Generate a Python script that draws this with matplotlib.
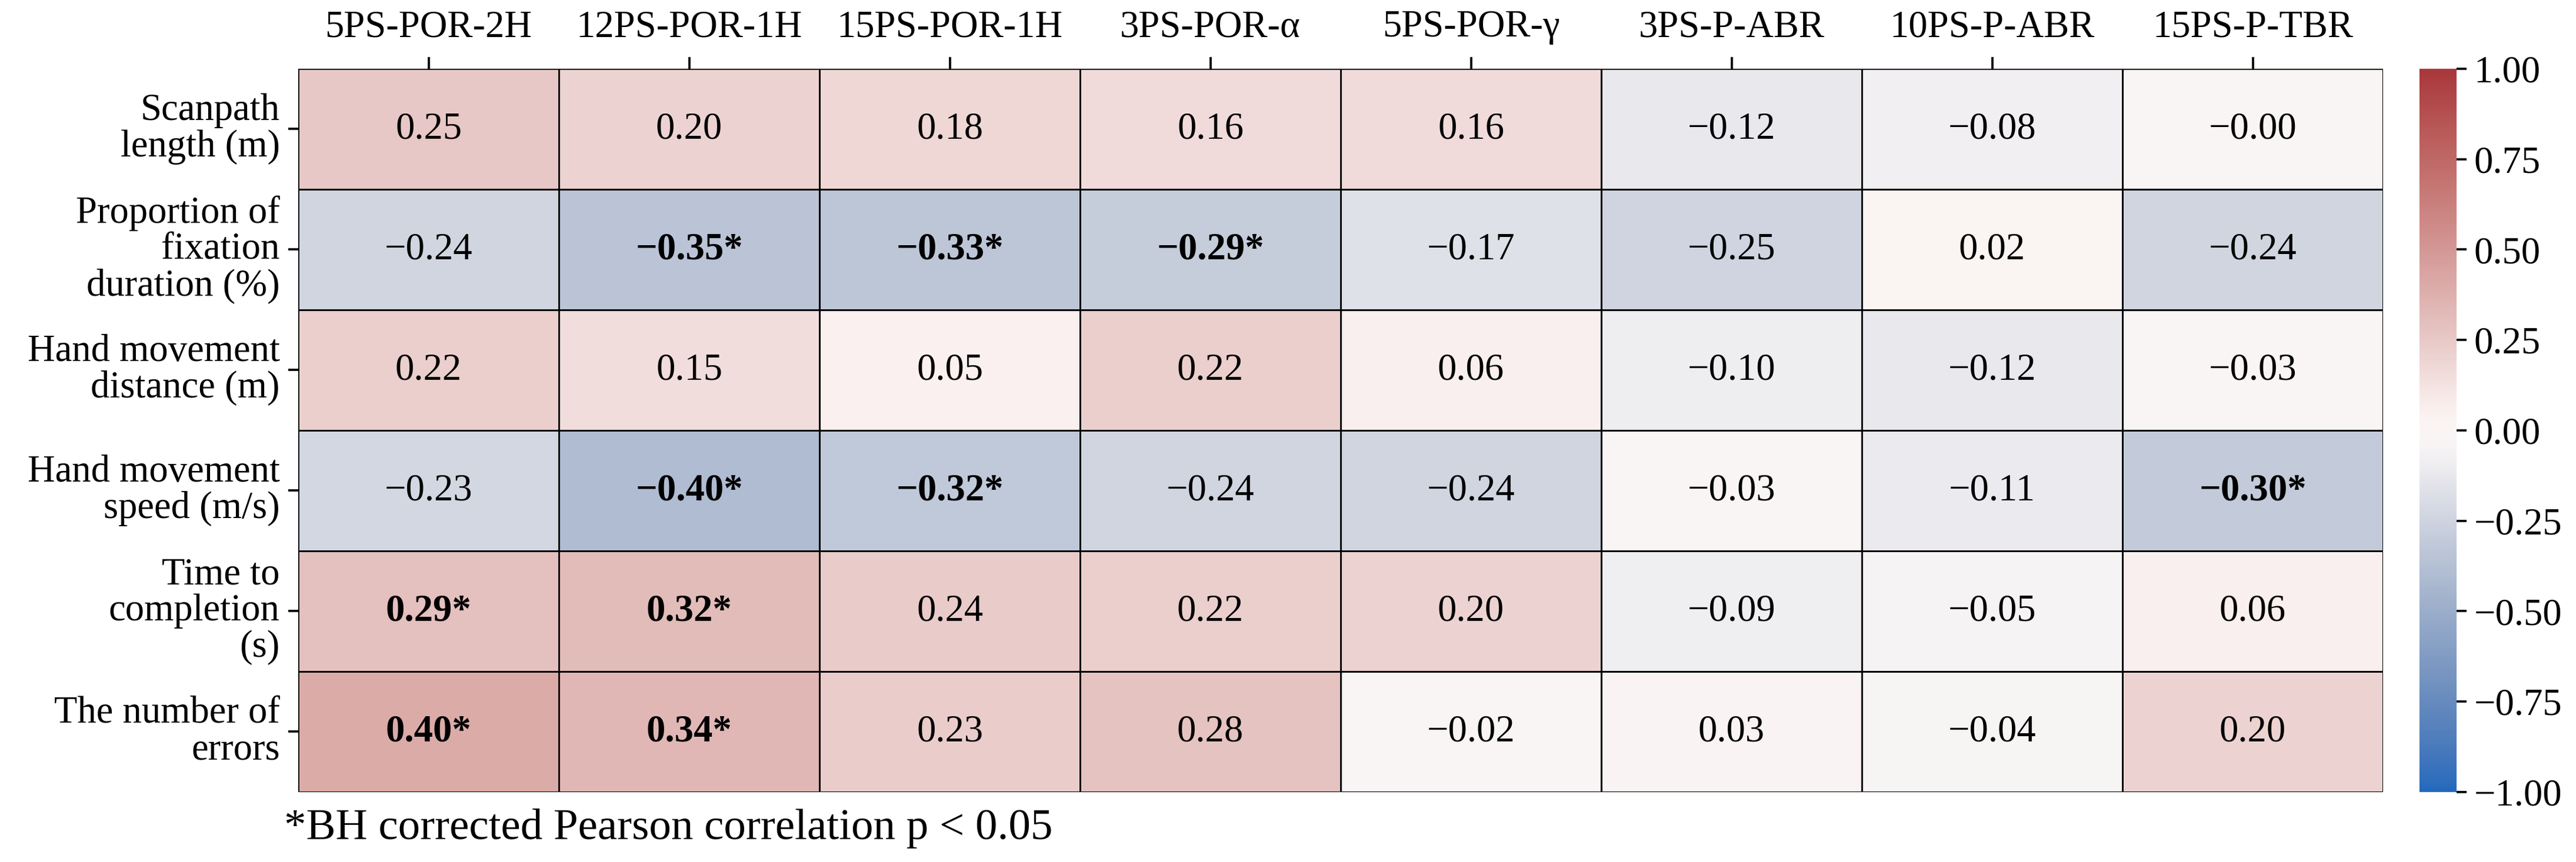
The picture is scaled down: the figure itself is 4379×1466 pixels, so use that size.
import numpy as np
import matplotlib
matplotlib.use("Agg")
import matplotlib.pyplot as plt
import seaborn as sns

# data
cols = ["5PS-POR-2H", "12PS-POR-1H", "15PS-POR-1H", "3PS-POR-\u03b1",
        "5PS-POR-\u03b3", "3PS-P-ABR", "10PS-P-ABR", "15PS-P-TBR"]
rows = ["Scanpath\nlength (m)", "Proportion of\nfixation\nduration (%)",
        "Hand movement\ndistance (m)", "Hand movement\nspeed (m/s)",
        "Time to\ncompletion\n(s)", "The number of\nerrors"]

scanpath = [0.25, 0.20, 0.18, 0.16, 0.16, -0.12, -0.08, -0.001]
fixation = [-0.24, -0.35, -0.33, -0.29, -0.17, -0.25, 0.02, -0.24]
hand_dist = [0.22, 0.15, 0.05, 0.22, 0.06, -0.10, -0.12, -0.03]
hand_speed = [-0.23, -0.40, -0.32, -0.24, -0.24, -0.03, -0.11, -0.30]
completion = [0.29, 0.32, 0.24, 0.22, 0.20, -0.09, -0.05, 0.06]
errors = [0.40, 0.34, 0.23, 0.28, -0.02, 0.03, -0.04, 0.20]

signif = [
    [0, 0, 0, 0, 0, 0, 0, 0],
    [0, 1, 1, 1, 0, 0, 0, 0],
    [0, 0, 0, 0, 0, 0, 0, 0],
    [0, 1, 1, 0, 0, 0, 0, 1],
    [1, 1, 0, 0, 0, 0, 0, 0],
    [1, 1, 0, 0, 0, 0, 0, 0],
]
cbar_ticks = [1.00, 0.75, 0.50, 0.25, 0.00, -0.25, -0.50, -0.75, -1.00]

vals = np.array([scanpath, fixation, hand_dist, hand_speed, completion, errors])

serif = ["Liberation Serif", "DejaVu Serif"]
plt.rcParams["font.family"] = serif
plt.rcParams["font.serif"] = serif
fs = 15.5

fig = plt.figure(figsize=(4379 / 300, 1466 / 300), dpi=300)
ax = fig.add_axes([0.1158, 0.0812, 0.8093, 0.839])
cax = fig.add_axes([0.9393, 0.0812, 0.0144, 0.839])

sns.heatmap(vals, ax=ax, cbar_ax=cax, cmap="vlag", vmin=-1, vmax=1,
            linewidths=0.7, linecolor="black", annot=False,
            xticklabels=cols, yticklabels=rows)


def fmt(v):
    s = f"{v:.2f}"
    return s.replace("-", "\u2212")


for i in range(vals.shape[0]):
    for j in range(vals.shape[1]):
        txt = fmt(vals[i, j])
        bold = signif[i][j] == 1
        if bold:
            txt += "*"
        ax.text(j + 0.5, i + 0.5, txt, ha="center", va="center",
                fontsize=fs, fontweight="bold" if bold else "normal",
                family=serif, color="black")

ax.xaxis.tick_top()
ax.set_xticklabels(cols, rotation=0, fontsize=fs, family=serif)
ax.set_yticklabels(rows, rotation=0, fontsize=fs, linespacing=1.05,
                   ha="right", va="center", family=serif)
ax.tick_params(axis="x", length=4.8, width=0.9, pad=5)
ax.tick_params(axis="y", length=4, width=0.9, pad=3.5)

cax.set_yticks(cbar_ticks)
cax.set_yticklabels([fmt(t) for t in cbar_ticks], fontsize=fs, family=serif)
cax.tick_params(length=4, width=0.9, pad=3)

fig.text(483 / 4379, 0.0266, "*BH corrected Pearson correlation p < 0.05",
         fontsize=18, ha="left", va="baseline", family=serif)

fig.savefig("out.png", dpi=300)
